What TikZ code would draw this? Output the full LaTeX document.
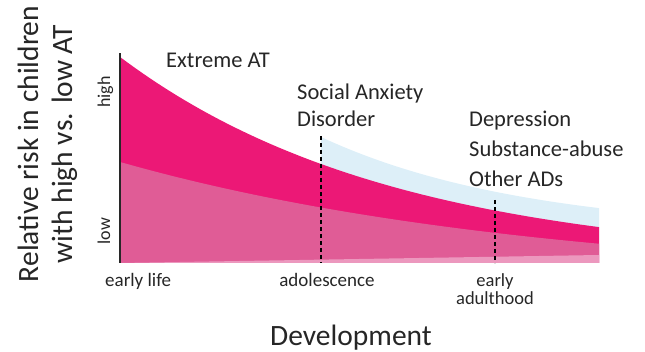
\documentclass[tikz,border=0pt]{standalone}
\usepackage{fontspec}
\setmainfont{Carlito}
\usetikzlibrary{positioning}
\definecolor{atmagenta}{RGB}{236,24,118}
\definecolor{atpink}{RGB}{224,92,150}
\definecolor{atrose}{RGB}{236,152,190}
\definecolor{atsky}{RGB}{221,239,248}
\definecolor{axisgray}{RGB}{40,40,40}

\begin{document}
\begin{tikzpicture}[x=1pt, y=1pt,
  lbl/.style={font=\fontsize{22.5}{27}\selectfont, inner sep=0pt, text=black!85},
  tk/.style={font=\fontsize{19}{17}\selectfont, inner sep=0pt, text=black!85},
  lvl/.style={font=\fontsize{18}{18}\selectfont, inner sep=0pt, rotate=90, text=black!85},
  ttl/.style={font=\fontsize{29.5}{34}\selectfont, inner sep=0pt, text=black!85},
  dline/.style={line width=2.4pt, dash pattern=on 4pt off 3pt}]
\useasboundingbox (0,0) rectangle (645,352);
% corners of the plot
\coordinate (origin) at (120,89);
\coordinate (ytop) at (120,299);
% band for social anxiety (light blue)
\fill[atsky] plot[domain=321:599, samples=50] (\x,{119+96*exp(-0.004847*(\x-321))}) -- (599,89) -- (321,89) -- cycle;
% extreme AT (magenta)
\fill[atmagenta] (origin) -- plot[domain=120:599, samples=60] (\x,{89+206*exp(-0.003648*(\x-120))}) -- (599,89) -- cycle;
% lower band (pink)
\fill[atpink] (origin) -- plot[domain=120:599, samples=60] (\x,{69+121*exp(-0.00235*(\x-120))}) -- (599,89) -- cycle;
% thin wedge at the bottom
\fill[atrose] (origin) -- (599,97) -- (599,89) -- cycle;
% y axis
\draw[axisgray, line width=1.2pt] (origin) -- (ytop);
% onset markers
\coordinate (sadtop) at (321,216);
\coordinate (sadbot) at (321,89);
\coordinate (deptop) at (495,152);
\coordinate (depbot) at (495,89);
\draw[dline] (sadtop) -- (sadbot);
\draw[dline] (deptop) -- (depbot);
% labels in the plot
\node[lbl, anchor=base west] (extreme) at (166,284) {Extreme AT};
\node[lbl, anchor=base west] (social) at (297,252) {Social Anxiety};
\node[lbl, anchor=base west] (disorder) at (297,225) {Disorder};
\node[lbl, anchor=base west] (depr) at (469,225) {Depression};
\node[lbl, anchor=base west] (subst) at (469,195) {Substance-abuse};
\node[lbl, anchor=base west] (other) at (469,165) {Other ADs};
% levels on the y axis
\node[lvl, anchor=base] (high) at (110,260) {high};
\node[lvl, anchor=base] (low) at (110,121) {low};
% stages on the x axis
\node[tk, anchor=base west] (early) at (105,65) {early life};
\node[tk, anchor=base] (adol) at (327,65) {adolescence};
\node[tk, anchor=base, font=\fontsize{18.5}{17}\selectfont] (adult1) at (495,65) {early};
\node[tk, anchor=base, font=\fontsize{18.5}{17}\selectfont] (adult2) at (495,47) {adulthood};
% axis titles
\node[ttl, anchor=base] (devel) at (351,6) {Development};
\node[ttl, anchor=base, rotate=90] (risk1) at (38,208) {Relative risk in children};
\node[ttl, anchor=base, rotate=90] (risk2) at (72,208) {with high vs. low AT};
\end{tikzpicture}
\end{document}
